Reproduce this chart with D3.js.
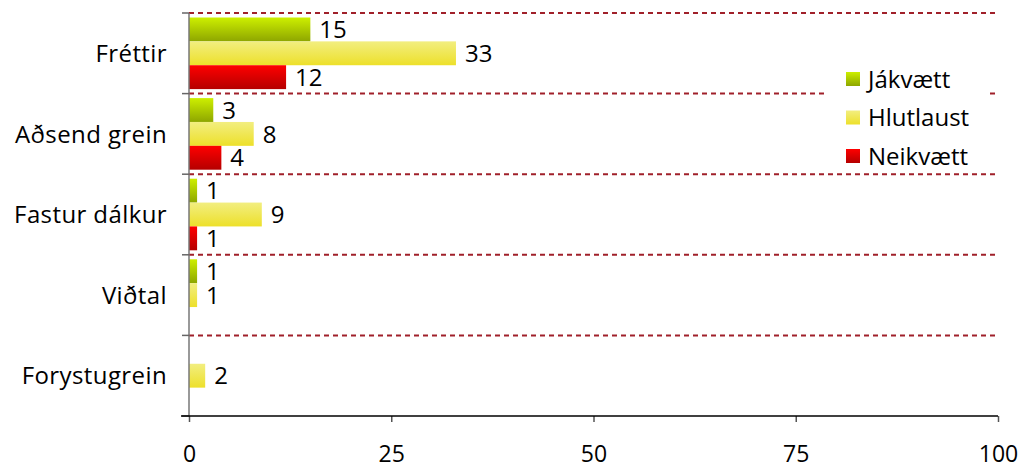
<!DOCTYPE html>
<html>
<head>
<meta charset="utf-8">
<script src="https://cdn.jsdelivr.net/npm/d3@7"></script>
<style>
  html, body { margin: 0; padding: 0; background: #fff; }
  svg { display: block; font-family: "Open Sans", sans-serif; }
</style>
</head>
<body>
<div id="chart"></div>
<script>
// Data
const categories = ['Fréttir', 'Aðsend grein', 'Fastur dálkur', 'Viðtal', 'Forystugrein'];
const seriesNames = ['Jákvætt', 'Hlutlaust', 'Neikvætt'];
const positive = [15, 3, 1, 1, 0];
const neutral = [33, 8, 9, 1, 2];
const negative = [12, 4, 1, 0, 0];
const xTicks = [0, 25, 50, 75, 100];

const seriesValues = [positive, neutral, negative];
const gradients = [
    ['#cdef00', '#8ea600'],
    ['#f2ee80', '#ede02a'],
    ['#ff0000', '#b50000']
];

const width = 1035, height = 468;
const margin = { top: 13, right: 37, bottom: 52, left: 189 };
const plotW = width - margin.left - margin.right;
const plotH = height - margin.top - margin.bottom;
const fontSize = 24;

const svg = d3.select('#chart').append('svg')
    .attr('width', width)
    .attr('height', height);

const defs = svg.append('defs');
gradients.forEach((g, i) => {
    const lg = defs.append('linearGradient')
        .attr('id', 'grad' + i)
        .attr('x1', 0).attr('y1', 0).attr('x2', 0).attr('y2', 1);
    lg.append('stop').attr('offset', '0%').attr('stop-color', g[0]);
    lg.append('stop').attr('offset', '100%').attr('stop-color', g[1]);
});

const g = svg.append('g').attr('transform', `translate(${margin.left},${margin.top})`);

const x = d3.scaleLinear().domain([0, 100]).range([0, plotW]);
const y = d3.scaleBand().domain(categories).range([0, plotH]).padding(0);
const ySub = d3.scaleBand().domain(seriesNames).range([4.5, y.bandwidth() - 4.5]).padding(0);

// dashed gridlines at band boundaries
const boundaries = categories.map(c => y(c));
g.append('g').selectAll('line')
    .data(boundaries)
    .join('line')
    .attr('x1', 0).attr('x2', plotW)
    .attr('y1', d => d).attr('y2', d => d)
    .attr('stroke', '#a0202a')
    .attr('stroke-width', 2)
    .attr('stroke-dasharray', '5,4');

// bars
const rows = [];
categories.forEach((c, ci) => {
    seriesNames.forEach((s, si) => {
        rows.push({ cat: c, series: s, si: si, value: seriesValues[si][ci] });
    });
});
const shown = rows.filter(r => r.value > 0);

g.append('g').selectAll('rect')
    .data(shown)
    .join('rect')
    .attr('x', 0)
    .attr('y', d => y(d.cat) + ySub(d.series))
    .attr('width', d => x(d.value))
    .attr('height', ySub.bandwidth())
    .attr('fill', d => `url(#grad${d.si})`);

g.append('g').selectAll('text')
    .data(shown)
    .join('text')
    .attr('x', d => x(d.value) + 9)
    .attr('y', d => y(d.cat) + ySub(d.series) + ySub.bandwidth() / 2)
    .attr('dy', '0.36em')
    .attr('font-size', fontSize)
    .attr('fill', '#000')
    .text(d => d.value);

// y axis
g.append('line')
    .attr('x1', 0).attr('x2', 0).attr('y1', 0).attr('y2', plotH)
    .attr('stroke', '#777').attr('stroke-width', 1.5);
g.append('g').selectAll('line')
    .data(boundaries.concat([plotH]))
    .join('line')
    .attr('x1', -7).attr('x2', 0)
    .attr('y1', d => d).attr('y2', d => d)
    .attr('stroke', '#666').attr('stroke-width', 1.5);

g.append('g').selectAll('text')
    .data(categories)
    .join('text')
    .attr('x', -22)
    .attr('y', d => y(d) + y.bandwidth() / 2)
    .attr('dy', '0.36em')
    .attr('text-anchor', 'end')
    .attr('font-size', fontSize)
    .attr('letter-spacing', 0.4)
    .attr('fill', '#000')
    .text(d => d);

// x axis
const xAxis = g.append('g')
    .attr('transform', `translate(0,${plotH})`)
    .call(d3.axisBottom(x).tickValues(xTicks).tickSize(6).tickPadding(24).tickSizeOuter(0));
xAxis.select('.domain').remove();
xAxis.append('line')
    .attr('x1', -8).attr('x2', plotW).attr('y1', 0).attr('y2', 0)
    .attr('stroke', '#000').attr('stroke-width', 1.5);
xAxis.selectAll('.tick line').attr('stroke', '#555').attr('stroke-width', 1.5);
xAxis.selectAll('.tick text')
    .attr('font-size', 23)
    .attr('font-family', '"Open Sans", sans-serif')
    .attr('fill', '#000');

// legend
const legend = svg.append('g');
legend.append('rect')
    .attr('x', 826).attr('y', 58).attr('width', 164).attr('height', 114)
    .attr('fill', '#fff');
const li = legend.selectAll('g.item')
    .data(seriesNames)
    .join('g')
    .attr('class', 'item')
    .attr('transform', (d, i) => `translate(846,${72 + i * 38.5})`);
li.append('rect')
    .attr('width', 14).attr('height', 14)
    .attr('fill', (d, i) => `url(#grad${i})`);
li.append('text')
    .attr('x', 22).attr('y', 7)
    .attr('dy', '0.36em')
    .attr('font-size', fontSize)
    .attr('fill', '#000')
    .text(d => d);
</script>
</body>
</html>
